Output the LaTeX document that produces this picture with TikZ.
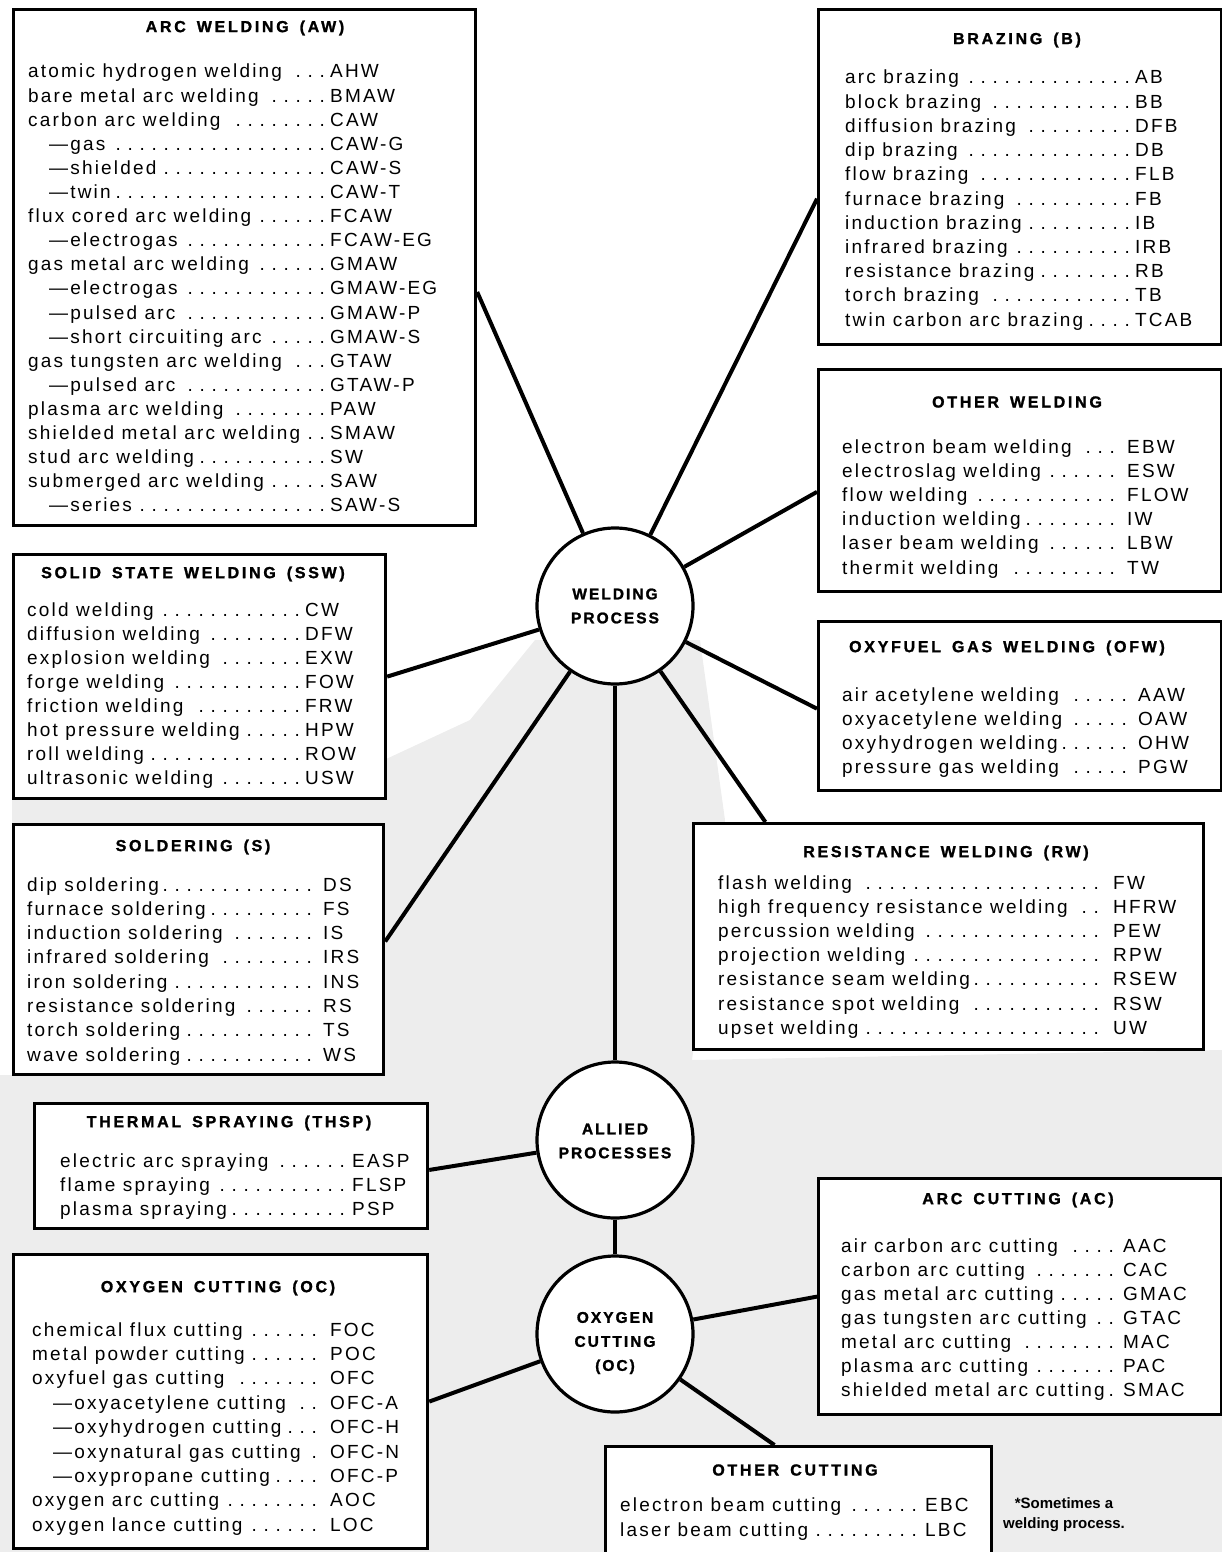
\documentclass[tikz,border=0pt]{standalone}
\usepackage{fontspec}
\setmainfont{Liberation Sans}
\newfontfamily\rowfont[LetterSpace=11.5]{Liberation Sans}
\newfontfamily\ttlfont[LetterSpace=17,BoldFeatures={FakeBold=1.4}]{Liberation Sans}
\newfontfamily\circfont[LetterSpace=13,BoldFeatures={FakeBold=1.4}]{Liberation Sans}
\usetikzlibrary{calc}
\newcommand\ind{\hspace*{21pt}}
\newcommand\ws{\hspace{11pt}}
\newcommand\lead{\leaders\hbox to 12pt{\hss.\hss}\hfill}
\newcommand\rows[6]{\foreach[count=\i] \nm/\ab in {#6}{\node[rowtxt] (#1\i) at (#2,{#3+#4*(\i-1)}) {\hbox to #5pt{\nm\lead}\ab};}}
\begin{document}
\begin{tikzpicture}[x=1pt,y=-1pt,line join=miter,
  box/.style={draw,line width=3.2pt,fill=white,inner sep=0pt,anchor=north west},
  rowtxt/.style={inner sep=0pt,anchor=base west,font=\rowfont\fontsize{19}{19}\selectfont},
  ttl/.style={inner sep=0pt,font=\ttlfont\bfseries\fontsize{16}{16}\selectfont},
  proc/.style={circle,draw,line width=3.2pt,fill=white,minimum size=156pt,inner sep=0pt},
  plabel/.style={inner sep=0pt,align=center,font=\circfont\bfseries\fontsize{15.5}{24}\selectfont},
  conn/.style={line width=4pt},
  note/.style={inner sep=0pt,align=center,font=\bfseries\fontsize{15}{20}\selectfont}]
\useasboundingbox (0,0) rectangle (1222,1552);
% stippled background
\fill[black!7] (535,640) -- (700,640) -- (725,820) -- (692,1060) -- (1222,1050) -- (1222,1552) -- (0,1552) -- (0,1075) -- (12,1075) -- (12,800) -- (384,800) -- (384,760) -- (470,720) -- cycle;
% boxes
\node[box,minimum width=462pt,minimum height=516pt] (aw) at (12,8) {};
\node[box,minimum width=403pt,minimum height=335pt] (br) at (817,8) {};
\node[box,minimum width=403pt,minimum height=222pt] (ow) at (817,368) {};
\node[box,minimum width=403pt,minimum height=169pt] (ofw) at (817,620) {};
\node[box,minimum width=510pt,minimum height=226pt] (rw) at (692,822) {};
\node[box,minimum width=372pt,minimum height=244pt] (ssw) at (12,553) {};
\node[box,minimum width=370pt,minimum height=250pt] (sol) at (12,823) {};
\node[box,minimum width=393pt,minimum height=125pt] (thsp) at (33,1102) {};
\node[box,minimum width=414pt,minimum height=294pt] (ocb) at (12,1253) {};
\node[box,minimum width=403pt,minimum height=236pt] (ac) at (817,1177) {};
\node[box,minimum width=386pt,minimum height=120pt] (oct) at (604,1445) {};
% circles
\node[proc] (wp) at (615,606) {};
\node[proc] (al) at (615,1140) {};
\node[proc] (oc) at (615,1334) {};
\node[plabel] (wpl) at (615,606) {WELDING\\PROCESS};
\node[plabel] (all) at (615,1141) {ALLIED\\PROCESSES};
\node[plabel] (ocl) at (615,1343) {OXYGEN\\CUTTING\\(OC)};
% connectors
\draw[conn] ($(aw.north east)!0.547!(aw.south east)$) -- (wp);
\draw[conn] ($(br.north west)!0.564!(br.south west)$) -- (wp);
\draw[conn] ($(ow.north west)!0.55!(ow.south west)$) -- (wp);
\draw[conn] ($(ofw.north west)!0.515!(ofw.south west)$) -- (wp);
\draw[conn] ($(rw.north west)!0.143!(rw.north east)$) -- (wp);
\draw[conn] ($(ssw.north east)!0.5!(ssw.south east)$) -- (wp);
\draw[conn] ($(sol.north east)!0.468!(sol.south east)$) -- (wp);
\draw[conn] (wp) -- (al);
\draw[conn] ($(thsp.north east)!0.53!(thsp.south east)$) -- (al);
\draw[conn] (al) -- (oc);
\draw[conn] ($(ocb.north east)!0.5!(ocb.south east)$) -- (oc);
\draw[conn] ($(ac.north west)!0.5!(ac.south west)$) -- (oc);
\draw[conn] ($(oct.north west)!0.438!(oct.north east)$) -- (oc);
% titles
\node[ttl] (awt) at (245,28) {ARC\ws WELDING\ws(AW)};
\node[ttl] (brt) at (1017,40) {BRAZING\ws(B)};
\node[ttl] (owt) at (1017,402) {OTHER\ws WELDING};
\node[ttl] (ofwt) at (1007,648) {OXYFUEL\ws GAS\ws WELDING\ws(OFW)};
\node[ttl] (rwt) at (946,853) {RESISTANCE\ws WELDING\ws(RW)};
\node[ttl] (sswt) at (193,574) {SOLID\ws STATE\ws WELDING\ws(SSW)};
\node[ttl] (solt) at (193,847) {SOLDERING\ws(S)};
\node[ttl] (thspt) at (229,1123) {THERMAL\ws SPRAYING\ws(THSP)};
\node[ttl] (ocbt) at (218,1288) {OXYGEN\ws CUTTING\ws(OC)};
\node[ttl] (act) at (1018,1200) {ARC\ws CUTTING\ws(AC)};
\node[ttl] (octt) at (795,1470) {OTHER\ws CUTTING};
% rows
\rows{aw}{28}{78}{24.1}{302}{atomic hydrogen welding/AHW,bare metal arc welding/BMAW,carbon arc welding/CAW,\ind—gas/CAW-G,\ind—shielded/CAW-S,\ind—twin/CAW-T,flux cored arc welding/FCAW,\ind—electrogas/FCAW-EG,gas metal arc welding/GMAW,\ind—electrogas/GMAW-EG,\ind—pulsed arc/GMAW-P,\ind—short circuiting arc/GMAW-S,gas tungsten arc welding/GTAW,\ind—pulsed arc/GTAW-P,plasma arc welding/PAW,shielded metal arc welding/SMAW,stud arc welding/SW,submerged arc welding/SAW,\ind—series/SAW-S}
\rows{br}{845}{84}{24.2}{290}{arc brazing/AB,block brazing/BB,diffusion brazing/DFB,dip brazing/DB,flow brazing/FLB,furnace brazing/FB,induction brazing/IB,infrared brazing/IRB,resistance brazing/RB,torch brazing/TB,twin carbon arc brazing/TCAB}
\rows{ow}{842}{453}{24.2}{285}{electron beam welding/EBW,electroslag welding/ESW,flow welding/FLOW,induction welding/IW,laser beam welding/LBW,thermit welding/TW}
\rows{ofw}{842}{701}{24.3}{296}{air acetylene welding/AAW,oxyacetylene welding/OAW,oxyhydrogen welding/OHW,pressure gas welding/PGW}
\rows{rw}{718}{889}{24.2}{395}{flash welding/FW,high frequency resistance welding/HFRW,percussion welding/PEW,projection welding/RPW,resistance seam welding/RSEW,resistance spot welding/RSW,upset welding/UW}
\rows{ssw}{27}{616}{24}{278}{cold welding/CW,diffusion welding/DFW,explosion welding/EXW,forge welding/FOW,friction welding/FRW,hot pressure welding/HPW,roll welding/ROW,ultrasonic welding/USW}
\rows{sol}{27}{891}{24.3}{296}{dip soldering/DS,furnace soldering/FS,induction soldering/IS,infrared soldering/IRS,iron soldering/INS,resistance soldering/RS,torch soldering/TS,wave soldering/WS}
\rows{thsp}{60}{1167}{24}{292}{electric arc spraying/EASP,flame spraying/FLSP,plasma spraying/PSP}
\rows{ocb}{32}{1336}{24.4}{298}{chemical flux cutting/FOC,metal powder cutting/POC,oxyfuel gas cutting/OFC,\ind—oxyacetylene cutting/OFC-A,\ind—oxyhydrogen cutting/OFC-H,\ind—oxynatural gas cutting/OFC-N,\ind—oxypropane cutting/OFC-P,oxygen arc cutting/AOC,oxygen lance cutting/LOC}
\rows{ac}{841}{1252}{24}{282}{air carbon arc cutting/AAC,carbon arc cutting/CAC,gas metal arc cutting/GMAC,gas tungsten arc cutting/GTAC,metal arc cutting/MAC,plasma arc cutting/PAC,shielded metal arc cutting/SMAC}
\rows{oct}{620}{1511}{25}{305}{electron beam cutting/EBC,laser beam cutting/LBC}
% footnote
\node[note] (fn) at (1064,1515) {*Sometimes a\\welding process.};
\end{tikzpicture}
\end{document}
